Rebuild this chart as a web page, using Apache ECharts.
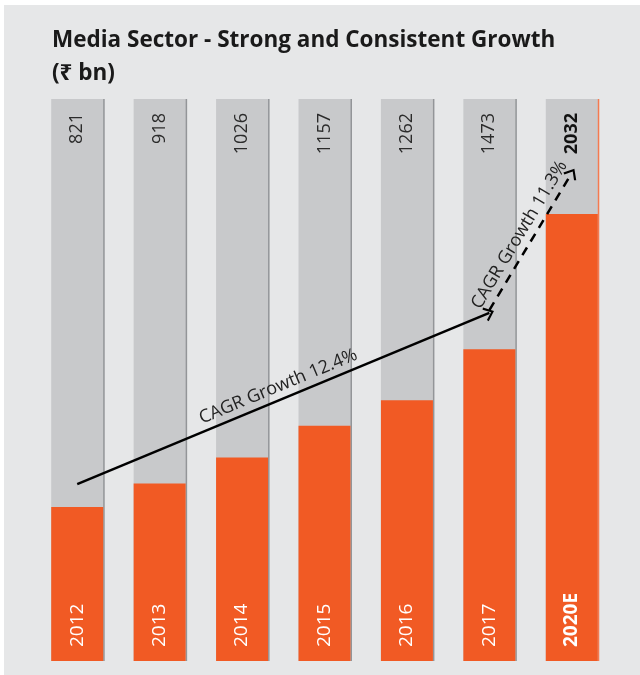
<!DOCTYPE html>
<html>
<head>
<meta charset="utf-8">
<script src="https://cdn.jsdelivr.net/npm/echarts@6/dist/echarts.min.js"></script>
<style>
  html, body { margin: 0; padding: 0; background: #ffffff; }
  #chart { position: absolute; left: 4px; top: 5px; width: 636px; height: 670px; }
</style>
</head>
<body>
<div id="chart"></div>
<script>
// data
var years = ['2012', '2013', '2014', '2015', '2016', '2017', '2020E'];
var sizes = [821, 918, 1026, 1157, 1262, 1473, 2032];
var estimateYear = '2020E';

// CAGR arrows: start / end points in (category, value) space
var cagrFrom = ['2012', '2017'];
var cagrFromVal = [916, 1635];
var cagrTo = ['2017', '2020E'];
var cagrToVal = [1623, 2201];
var cagrText = ['CAGR Growth 12.4%', 'CAGR Growth 11.3%'];

var axisMin = 185;
var axisMax = 2507;

var orange = '#f15a24';
var track = '#c8c9cb';
var font = '"Open Sans", "Noto Sans", sans-serif';

var chevron = 'path://M0,11 L8,0 L16,11 L14,12.5 L8,4 L2,12.5 Z';

var myChart = echarts.init(document.getElementById('chart'), null, { renderer: 'canvas' });

var trackData = years.map(function (y) {
	var isEst = y === estimateYear;
	return {
		value: axisMax,
		itemStyle: { shadowColor: isEst ? '#f47a50' : '#939598' },
		label: { fontWeight: isEst ? 'bold' : 'normal', color: isEst ? '#111' : '#2b2b2b' },
	};
});

var sizeData = sizes.map(function (v, i) {
	var isEst = years[i] === estimateYear;
	return { value: v, label: { fontWeight: isEst ? 'bold' : 'normal' } };
});

var arrowData = cagrText.map(function (t, i) {
	return [
		{ coord: [cagrFrom[i], cagrFromVal[i]] },
		{
			coord: [cagrTo[i], cagrToVal[i]],
			lineStyle: { type: i === 0 ? 'solid' : [9, 7] },
			label: { formatter: t },
		},
	];
});

var option = {
	backgroundColor: '#e6e7e8',
	animation: false,
	title: {
		text: 'Media Sector - Strong and Consistent Growth\n(\u20b9 bn)',
		left: 43,
		top: 14,
		textStyle: {
			fontFamily: font,
			fontSize: 22.5,
			fontWeight: 'bold',
			color: '#1a1a1a',
			lineHeight: 33,
		},
	},
	grid: { left: 32, right: 27, top: 94, bottom: 14 },
	xAxis: { type: 'category', data: years, show: false },
	yAxis: { type: 'value', min: axisMin, max: axisMax, show: false },
	series: [
		{
			// grey track behind each bar, carries the value labels
			type: 'bar',
			data: trackData,
			barWidth: 52,
			barGap: '-100%',
			z: 1,
			itemStyle: { color: track, shadowBlur: 0, shadowOffsetX: 1.5 },
			label: {
				show: true,
				position: 'insideTop',
				rotate: 90,
				align: 'right',
				verticalAlign: 'middle',
				distance: 14,
				fontFamily: font,
				fontSize: 18,
				formatter: function (p) {
					return sizes[p.dataIndex];
				},
			},
		},
		{
			type: 'bar',
			data: sizeData,
			barWidth: 52,
			z: 2,
			itemStyle: { color: orange },
			label: {
				show: true,
				position: 'insideBottom',
				rotate: 90,
				align: 'left',
				verticalAlign: 'middle',
				distance: 14,
				fontFamily: font,
				fontSize: 19,
				color: '#ffffff',
				formatter: '{b}',
			},
			markLine: {
				silent: true,
				symbol: ['none', chevron],
				symbolSize: [15, 10],
				lineStyle: { color: '#000', width: 2.5, opacity: 1 },
				label: {
					show: true,
					position: 'middle',
					fontFamily: font,
					fontSize: 18,
					fontWeight: 'normal',
					color: '#222',
					distance: 4,
				},
				data: arrowData,
			},
		},
	],
};

myChart.setOption(option);
</script>
</body>
</html>
